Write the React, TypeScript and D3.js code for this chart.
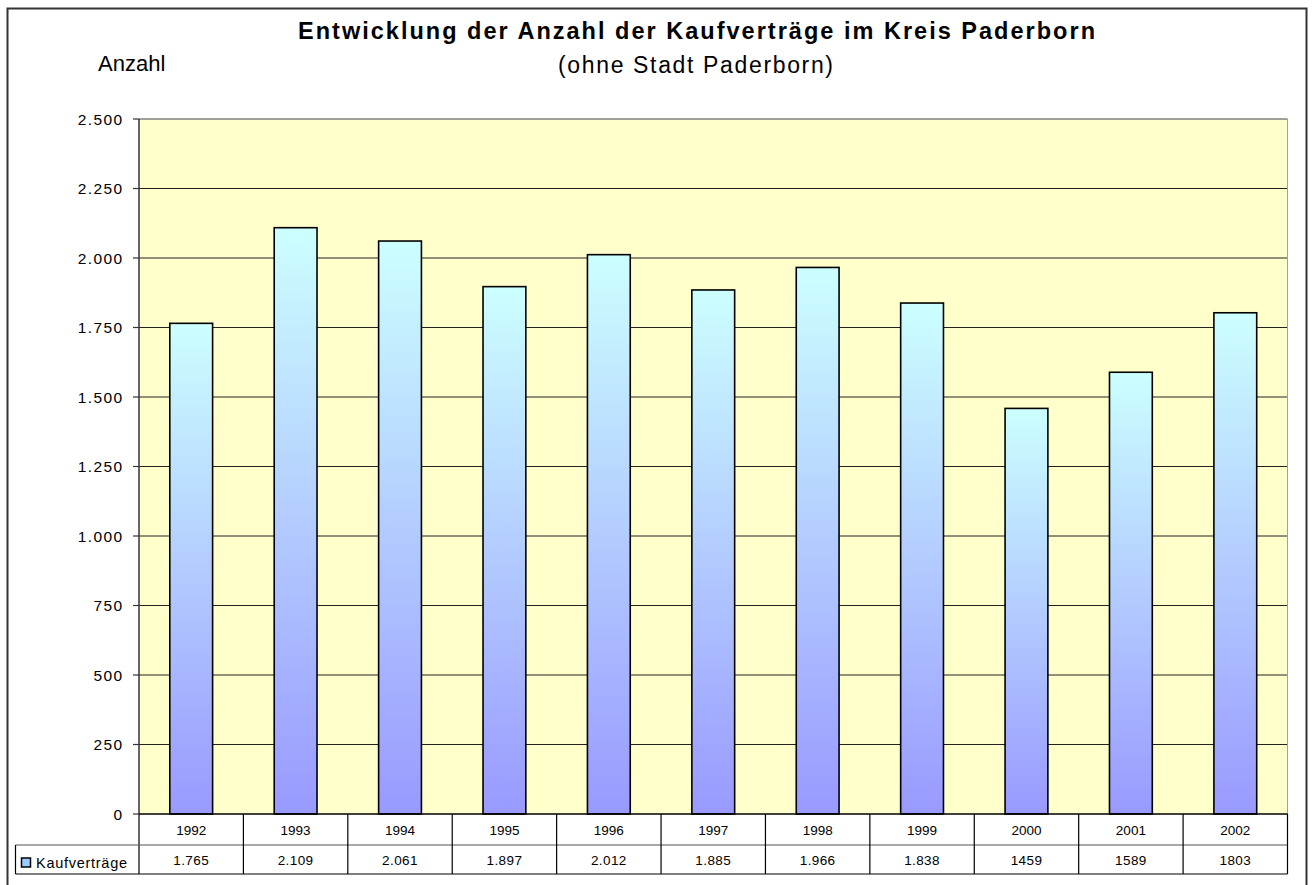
import React from "react";
import * as d3 from "d3";

const years = ["1992","1993","1994","1995","1996","1997","1998","1999","2000","2001","2002"];
const values = [1765, 2109, 2061, 1897, 2012, 1885, 1966, 1838, 1459, 1589, 1803];
const valueLabels = ["1.765","2.109","2.061","1.897","2.012","1.885","1.966","1.838","1459","1589","1803"];
const yTicks = [0, 250, 500, 750, 1000, 1250, 1500, 1750, 2000, 2250, 2500];
const tickLabels = ["0","250","500","750","1.000","1.250","1.500","1.750","2.000","2.250","2.500"];
const seriesName = "Kaufverträge";
const title = "Entwicklung der Anzahl der Kaufverträge im Kreis Paderborn";
const subtitle = "(ohne Stadt Paderborn)";
const yLabel = "Anzahl";

export default function App() {
  const W = 1315, H = 885;
  const left = 139, right = 1287.5, top = 119, bottom = 814;
  const x = d3.scaleBand<string>().domain(years).range([left, right]).paddingInner(0.59).paddingOuter(0.295);
  const xc = d3.scaleBand<string>().domain(years).range([left, right]);
  const y = d3.scaleLinear().domain([0, 2500]).range([bottom, top]);
  const row1 = 845, row2 = 874;
  const font = "Arial, 'Liberation Sans', sans-serif";
  return (
    <svg width={W} height={H} style={{ position: "absolute", left: 0, top: 0 }} fontFamily={font}>
      <defs>
        <linearGradient id="barg" x1="0" y1="0" x2="0" y2="1">
          <stop offset="0" stopColor="#CCFFFF" />
          <stop offset="1" stopColor="#9999FF" />
        </linearGradient>
      </defs>
      <rect x={0} y={0} width={W} height={H} fill="#fff" />
      <rect x={7.5} y={8.5} width={1299} height={880} fill="#fff" stroke="#333" strokeWidth={2} />
      <text x={298} y={39} fontSize={23.5} fontWeight="bold" textLength={797} lengthAdjust="spacing">{title}</text>
      <text x={558} y={73} fontSize={23} textLength={275} lengthAdjust="spacing">{subtitle}</text>
      <text x={98} y={71} fontSize={22}>{yLabel}</text>
      <rect x={left} y={top} width={right - left} height={bottom - top} fill="#FFFFCC" />
      {yTicks.slice(1, -1).map((t) => (
        <line key={t} x1={left} x2={right} y1={y(t)} y2={y(t)} stroke="#222" strokeWidth={1} />
      ))}
      <line x1={left} x2={right} y1={top} y2={top} stroke="#808080" strokeWidth={1.5} />
      <line x1={right} x2={right} y1={top} y2={bottom} stroke="#a0a0a0" strokeWidth={1} />
      {values.map((v, i) => (
        <rect key={years[i]} x={x(years[i])!} y={y(v)} width={x.bandwidth()} height={bottom - y(v)}
          fill="url(#barg)" stroke="#000" strokeWidth={1.6} />
      ))}
      <line x1={left} x2={left} y1={top} y2={row2} stroke="#333" strokeWidth={1.5} />
      {yTicks.map((t, i) => (
        <g key={t}>
          <line x1={left - 6} x2={left} y1={y(t)} y2={y(t)} stroke="#333" strokeWidth={1.2} />
          <text x={123.5} y={y(t) + 5.5} textAnchor="end" fontSize={15.5} letterSpacing={1.4}>{tickLabels[i]}</text>
        </g>
      ))}
      {/* data table */}
      <line x1={left} x2={right} y1={bottom} y2={bottom} stroke="#000" strokeWidth={1.5} />
      <line x1={15.5} x2={right} y1={row1} y2={row1} stroke="#555" strokeWidth={1.2} />
      <line x1={15.5} x2={right} y1={row2} y2={row2} stroke="#000" strokeWidth={1.2} />
      <line x1={15.5} x2={15.5} y1={row1} y2={row2} stroke="#000" strokeWidth={1.2} />
      <line x1={right} x2={right} y1={bottom} y2={row2} stroke="#000" strokeWidth={1.2} />
      {years.map((yr, i) => (
        <g key={yr}>
          {i > 0 && <line x1={xc(yr)!} x2={xc(yr)!} y1={bottom} y2={row2} stroke="#000" strokeWidth={1.2} />}
          <text x={xc(yr)! + xc.bandwidth() / 2} y={834.5} textAnchor="middle" fontSize={13.5}>{yr}</text>
          <text x={xc(yr)! + xc.bandwidth() / 2} y={865} textAnchor="middle" fontSize={13.5} letterSpacing={0.4}>{valueLabels[i]}</text>
        </g>
      ))}
      <rect x={21.5} y={858} width={9} height={9} fill="#99CCFF" stroke="#000" strokeWidth={1.5} />
      <text x={36} y={867.5} fontSize={14.5} textLength={91} lengthAdjust="spacing">{seriesName}</text>
    </svg>
  );
}
